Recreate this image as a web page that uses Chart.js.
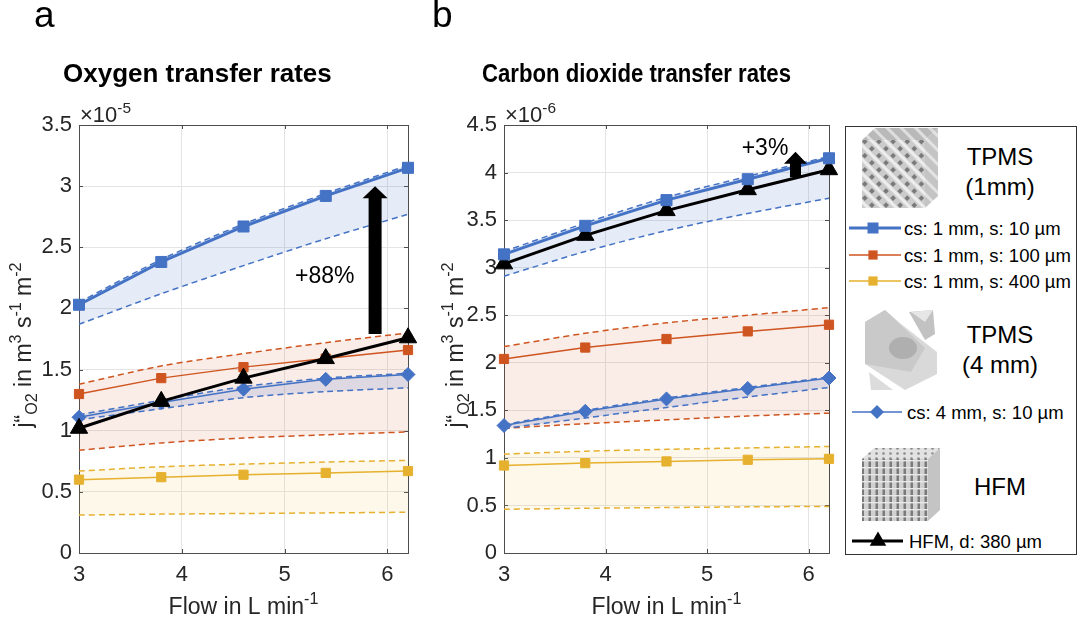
<!DOCTYPE html>
<html>
<head>
<meta charset="utf-8">
<script src="https://cdn.jsdelivr.net/npm/chart.js@4.4.1/dist/chart.umd.min.js"></script>
<style>
  html,body{margin:0;padding:0;background:#fff;}
  body{width:1080px;height:618px;overflow:hidden;position:relative;font-family:'Liberation Sans',Arial,Helvetica,sans-serif;}
  .wrap{position:absolute;top:0;height:618px;}
  #legend{position:absolute;left:845px;top:126px;width:232px;height:429px;}
</style>
</head>
<body>
<div class="wrap" style="left:0;width:430px;"><canvas id="o2"></canvas></div>
<div class="wrap" style="left:420px;width:420px;"><canvas id="co2"></canvas></div>
<div id="legend"></div>
<script>
// ---------------- DATA ----------------
const flow = [3, 3.8, 4.6, 5.4, 6.2];
const xTicks = [3, 4, 5, 6];
const o2YTicks = [0, 0.5, 1, 1.5, 2, 2.5, 3, 3.5];
const co2YTicks = [0, 0.5, 1, 1.5, 2, 2.5, 3, 3.5, 4, 4.5];

// Oxygen transfer rates (x 1e-5)
const o2_s10    = [2.03, 2.38, 2.67, 2.92, 3.15];
const o2_s10_hi = [2.05, 2.40, 2.69, 2.94, 3.17];
const o2_s10_lo = [1.87, 2.12, 2.35, 2.57, 2.77];
const o2_s100    = [1.30, 1.43, 1.52, 1.59, 1.66];
const o2_s100_hi = [1.38, 1.53, 1.63, 1.72, 1.80];
const o2_s100_lo = [0.84, 0.90, 0.94, 0.967, 0.99];
const o2_s400    = [0.60, 0.62, 0.64, 0.655, 0.67];
const o2_s400_hi = [0.67, 0.705, 0.727, 0.744, 0.757];
const o2_s400_lo = [0.31, 0.318, 0.323, 0.328, 0.333];
const o2_cs4    = [1.11, 1.23, 1.34, 1.42, 1.46];
const o2_cs4_hi = [1.13, 1.25, 1.36, 1.43, 1.47];
const o2_cs4_lo = [1.09, 1.18, 1.27, 1.32, 1.35];
const o2_hfm    = [1.02, 1.24, 1.43, 1.59, 1.76];
const o2_arrow  = [5.88, 1.79, 3.0];    // x, from, to
const o2_note   = [5.39, 2.26, '+88%']; // x, y, text

// Carbon dioxide transfer rates (x 1e-6)
const co2_s10    = [3.14, 3.44, 3.71, 3.93, 4.15];
const co2_s10_hi = [3.17, 3.47, 3.74, 3.96, 4.17];
const co2_s10_lo = [2.91, 3.17, 3.39, 3.57, 3.73];
const co2_s100    = [2.04, 2.16, 2.25, 2.33, 2.40];
const co2_s100_hi = [2.17, 2.31, 2.42, 2.50, 2.58];
const co2_s100_lo = [1.31, 1.36, 1.40, 1.44, 1.47];
const co2_s400    = [0.92, 0.945, 0.963, 0.98, 0.99];
const co2_s400_hi = [1.04, 1.07, 1.09, 1.105, 1.12];
const co2_s400_lo = [0.46, 0.47, 0.478, 0.485, 0.49];
const co2_cs4    = [1.34, 1.49, 1.62, 1.73, 1.84];
const co2_cs4_hi = [1.35, 1.50, 1.63, 1.74, 1.85];
const co2_cs4_lo = [1.31, 1.42, 1.53, 1.64, 1.74];
const co2_hfm    = [3.04, 3.34, 3.60, 3.82, 4.03];
const co2_arrow  = [5.87, 3.95, 4.22];
const co2_note   = [5.57, 4.25, '+3%'];

const legendLabels = ['cs: 1 mm, s: 10 µm', 'cs: 1 mm, s: 100 µm', 'cs: 1 mm, s: 400 µm', 'cs: 4 mm, s: 10 µm', 'HFM, d: 380 µm'];

// ---------------- STYLE ----------------
const FONT = "'Liberation Sans', Arial, Helvetica, sans-serif";
const BLUE = '#4472c4', ORANGE = '#cf5520', YELLOW = '#e6b12e', BLACK = '#000000';
const BLUE_F = 'rgba(68,114,196,0.14)', ORANGE_F = 'rgba(207,85,32,0.11)', YELLOW_F = 'rgba(235,195,60,0.11)', CS4_F = 'rgba(68,114,196,0.16)';
const TXT = '#262626';

function pts(arr){ return flow.map((x,i)=>({x:x, y:arr[i]})); }

function band(arr, color, fillColor, fill){
  return { data: pts(arr), borderColor: color, borderWidth: 1.5, borderDash: [6,4],
    pointRadius: 0, fill: fill ? '+1' : false, backgroundColor: fillColor || 'transparent', tension: 0.3, clip: false };
}
function line(arr, color, style, r, w){
  return { data: pts(arr), borderColor: color, borderWidth: w, pointStyle: style, pointRadius: r,
    pointBackgroundColor: color, pointBorderColor: color, pointBorderWidth: 1, fill: false, tension: 0, clip: false };
}

function drawRich(ctx, segs, x, y, size, align, weight, maxW){
  const f = (s)=> (weight||'normal') + ' ' + s + 'px ' + FONT;
  let total = 0;
  segs.forEach(sg=>{ const s = sg.s ? size*0.7 : size; ctx.font = f(s); sg.w = ctx.measureText(sg.t).width; total += sg.w; });
  const k = (maxW && total > maxW) ? maxW/total : 1;
  let cx = align === 'center' ? x - total*k/2 : x;
  ctx.textAlign = 'left'; ctx.textBaseline = 'alphabetic';
  segs.forEach(sg=>{
    const s = sg.s ? size*0.7 : size;
    ctx.font = f(s);
    let dy = 0;
    if (sg.s === 'sup') dy = -size*0.42;
    if (sg.s === 'sub') dy = size*0.25;
    if (k < 1) ctx.fillText(sg.t, cx, y + dy, sg.w*k); else ctx.fillText(sg.t, cx, y + dy);
    cx += sg.w*k;
  });
}

const decoPlugin = {
  id: 'deco',
  beforeDatasetsDraw(chart, args, o){
    const ctx = chart.ctx, a = chart.chartArea, xs = chart.scales.x, ys = chart.scales.y;
    ctx.save();
    ctx.strokeStyle = '#4d4d4d'; ctx.lineWidth = 1;
    ctx.strokeRect(Math.round(a.left)+0.5, Math.round(a.top)+0.5, Math.round(a.right-a.left), Math.round(a.bottom-a.top));
    ctx.beginPath();
    const tl = 4;
    xTicks.forEach(v=>{ const px = Math.round(xs.getPixelForValue(v))+0.5;
      ctx.moveTo(px, a.bottom); ctx.lineTo(px, a.bottom-tl); ctx.moveTo(px, a.top); ctx.lineTo(px, a.top+tl); });
    o.yTicks.forEach(v=>{ const py = Math.round(ys.getPixelForValue(v))+0.5;
      ctx.moveTo(a.left, py); ctx.lineTo(a.left+tl, py); ctx.moveTo(a.right, py); ctx.lineTo(a.right-tl, py); });
    ctx.stroke();
    ctx.restore();
  },
  afterDatasetsDraw(chart, args, o){
    const ctx = chart.ctx, xs = chart.scales.x, ys = chart.scales.y;
    ctx.save();
    const ax = xs.getPixelForValue(o.arrow[0]), y0 = ys.getPixelForValue(o.arrow[1]), y1 = ys.getPixelForValue(o.arrow[2]);
    const sw = o.shaft/2, hw = o.head/2, hl = 12;
    ctx.fillStyle = '#000';
    ctx.beginPath();
    ctx.moveTo(ax - sw, y0); ctx.lineTo(ax - sw, y1 + hl); ctx.lineTo(ax - hw, y1 + hl);
    ctx.lineTo(ax, y1); ctx.lineTo(ax + hw, y1 + hl); ctx.lineTo(ax + sw, y1 + hl); ctx.lineTo(ax + sw, y0);
    ctx.closePath(); ctx.fill();
    ctx.font = '23px ' + FONT; ctx.textAlign = 'center'; ctx.textBaseline = 'middle'; ctx.fillStyle = '#000';
    ctx.fillText(o.note[2], xs.getPixelForValue(o.note[0]), ys.getPixelForValue(o.note[1]));
    ctx.restore();
  },
  afterDraw(chart, args, o){
    const ctx = chart.ctx, a = chart.chartArea;
    ctx.save();
    ctx.fillStyle = '#000';
    ctx.font = '37px ' + FONT; ctx.textAlign = 'left'; ctx.textBaseline = 'alphabetic';
    ctx.fillText(o.panel, o.panelX, 27);
    drawRich(ctx, [{t:o.title}], o.titleX, 82, 26, 'left', 'bold', o.titleW);
    ctx.fillStyle = TXT;
    drawRich(ctx, [{t:'×10'},{t:o.exp, s:'sup'}], a.left + 1, a.top - 3, 22, 'left');
    drawRich(ctx, [{t:'Flow in L min'},{t:'-1', s:'sup'}], (a.left + a.right)/2, 614, 23, 'center');
    ctx.translate(o.ylabX, 345); ctx.rotate(-Math.PI/2);
    drawRich(ctx, [{t:'j“'},{t:'O2', s:'sub'},{t:' in m'},{t:'3', s:'sup'},{t:' s'},{t:'-1', s:'sup'},{t:' m'},{t:'-2', s:'sup'}], 0, 0, 23, 'center');
    ctx.restore();
  }
};

function makeChart(id, d, cfg){
  const datasets = [
    band(d.s10_hi, BLUE, BLUE_F, true),
    band(d.s10_lo, BLUE),
    band(d.s100_hi, ORANGE, ORANGE_F, true),
    band(d.s100_lo, ORANGE),
    band(d.s400_hi, YELLOW, YELLOW_F, true),
    band(d.s400_lo, YELLOW),
    band(d.cs4_hi, BLUE, CS4_F, true),
    band(d.cs4_lo, BLUE),
    line(d.s400, YELLOW, 'rect', 6.5, 1.5),
    line(d.s100, ORANGE, 'rect', 6.5, 1.5),
    line(d.cs4, BLUE, 'rectRot', 7, 1.5),
    line(d.hfm, BLACK, 'triangle', 10, 3),
    line(d.s10, BLUE, 'rect', 7.8, 3)
  ];
  const N = datasets.length;
  datasets.forEach((ds,i)=>{ ds.order = N - i; });
  return new Chart(document.getElementById(id), {
    type: 'line',
    data: { datasets },
    options: {
      responsive: true, maintainAspectRatio: false, animation: false,
      layout: { padding: { left: 0, top: 125, right: cfg.padRight, bottom: 0 } },
      plugins: { legend: { display: false }, tooltip: { enabled: false },
        deco: { panel: cfg.panel, panelX: cfg.panelX, title: cfg.title, titleX: cfg.titleX, titleW: cfg.titleW, exp: cfg.exp,
                ylabX: cfg.ylabX, yTicks: cfg.yTicks, arrow: cfg.arrow, note: cfg.note, shaft: cfg.shaft, head: cfg.head } },
      scales: {
        x: { type: 'linear', min: 3, max: 6.2,
          afterBuildTicks: s => { s.ticks = xTicks.map(v=>({value:v})); },
          afterFit: s => { s.height = 65; },
          grid: { color: '#e4e4e4', drawTicks: false }, border: { display: false },
          ticks: { padding: 9, color: TXT, font: { size: 22, family: FONT }, callback: v => String(v) } },
        y: { type: 'linear', min: 0, max: cfg.ymax,
          afterBuildTicks: s => { s.ticks = cfg.yTicks.map(v=>({value:v})); },
          afterFit: s => { s.width = cfg.yWidth; },
          grid: { color: '#e4e4e4', drawTicks: false }, border: { display: false },
          ticks: { padding: 7, color: TXT, font: { size: 22, family: FONT }, callback: v => String(v) } }
      }
    },
    plugins: [decoPlugin]
  });
}

makeChart('o2', {
  s10: o2_s10, s10_hi: o2_s10_hi, s10_lo: o2_s10_lo,
  s100: o2_s100, s100_hi: o2_s100_hi, s100_lo: o2_s100_lo,
  s400: o2_s400, s400_hi: o2_s400_hi, s400_lo: o2_s400_lo,
  cs4: o2_cs4, cs4_hi: o2_cs4_hi, cs4_lo: o2_cs4_lo, hfm: o2_hfm
}, { panel: 'a', panelX: 34, title: 'Oxygen transfer rates', titleX: 63, titleW: 270, exp: '-5', ylabX: 31,
     yTicks: o2YTicks, ymax: 3.5, yWidth: 79, padRight: 22, arrow: o2_arrow, note: o2_note, shaft: 13, head: 25 });

makeChart('co2', {
  s10: co2_s10, s10_hi: co2_s10_hi, s10_lo: co2_s10_lo,
  s100: co2_s100, s100_hi: co2_s100_hi, s100_lo: co2_s100_lo,
  s400: co2_s400, s400_hi: co2_s400_hi, s400_lo: co2_s400_lo,
  cs4: co2_cs4, cs4_hi: co2_cs4_hi, cs4_lo: co2_cs4_lo, hfm: co2_hfm
}, { panel: 'b', panelX: 12, title: 'Carbon dioxide transfer rates', titleX: 62, titleW: 309, exp: '-6', ylabX: 43,
     yTicks: co2YTicks, ymax: 4.5, yWidth: 84, padRight: 7, arrow: co2_arrow, note: co2_note, shaft: 11, head: 23 });

// ---------------- LEGEND (SVG) ----------------
(function(){
  const NS = 'http://www.w3.org/2000/svg';
  const entries = [
    {y:102, x0:4, x1:56, m:28, tx:59, c:BLUE, w:3, s:'sq', r:5.5},
    {y:129, x0:4, x1:56, m:28, tx:59, c:ORANGE, w:1.5, s:'sq', r:4.6},
    {y:155, x0:4, x1:56, m:28, tx:59, c:YELLOW, w:1.5, s:'sq', r:4.6},
    {y:286, x0:7, x1:57, m:32, tx:62, c:BLUE, w:1.5, s:'di', r:7},
    {y:415, x0:7, x1:58, m:33, tx:64, c:BLACK, w:3, s:'tri', r:9.5}
  ];
  let svg = '<svg xmlns="'+NS+'" width="232" height="429" viewBox="0 0 232 429" style="font-family:'+FONT.replace(/'/g,'&quot;')+'">';
  svg += '<defs>'+
    '<pattern id="lat" width="10" height="10" patternUnits="userSpaceOnUse" patternTransform="rotate(45)">'+
      '<rect width="10" height="10" fill="#cbcbcb"/><rect x="0" y="0" width="10" height="3.2" fill="#ededed"/><rect x="3" y="5" width="4" height="4" fill="#7a7a7a"/></pattern>'+
    '<pattern id="lat2" width="10" height="10" patternUnits="userSpaceOnUse" patternTransform="rotate(45)">'+
      '<rect width="10" height="10" fill="#b9b9b9"/><rect x="0" y="0" width="10" height="3" fill="#dedede"/></pattern>'+
    '<pattern id="hfm" width="7" height="7" patternUnits="userSpaceOnUse">'+
      '<rect width="7" height="7" fill="#d0d0d0"/><rect x="2.5" width="2.5" height="7" fill="#7a7a7a"/><rect x="0" y="5" width="7" height="1.4" fill="#e8e8e8"/></pattern>'+
    '<pattern id="hfmt" width="7" height="5" patternUnits="userSpaceOnUse">'+
      '<rect width="7" height="5" fill="#e2e2e2"/><circle cx="3.5" cy="2.5" r="1.3" fill="#8a8a8a"/></pattern>'+
    '</defs>';
  svg += '<rect x="0.5" y="0.5" width="231" height="428" fill="#fff" stroke="#333" stroke-width="1"/>';
  // cube 1 (TPMS 1 mm)
  svg += '<polygon points="17,14 30,2 93,2 80,14" fill="url(#lat2)"/>'+
         '<polygon points="80,14 93,2 93,70 80,82" fill="url(#lat2)" opacity="0.85"/>'+
         '<rect x="17" y="14" width="63" height="68" fill="url(#lat)"/>';
  // cube 2 (TPMS 4 mm)
  svg += '<polygon points="20,196 40,184 56,198 92,226 92,248 60,264 20,238" fill="#d9d9d9"/>'+
         '<polygon points="20,196 40,184 80,222 66,246 20,238" fill="#c9c9c9"/>'+
         '<ellipse cx="58" cy="222" rx="14" ry="11" fill="#afafaf"/>'+
         '<polygon points="64,186 88,184 90,208 80,214" fill="#c2c2c2"/>'+
         '<polygon points="66,186 88,184 80,196" fill="#e6e6e6"/>'+
         '<polygon points="24,246 48,264 26,264" fill="#dcdcdc"/>';
  // cube 3 (HFM)
  svg += '<polygon points="17,333 29,322 95,322 83,333" fill="url(#hfmt)"/>'+
         '<polygon points="83,333 95,322 95,384 83,395" fill="#c4c4c4"/>'+
         '<rect x="17" y="333" width="66" height="62" fill="url(#hfm)"/>';
  // titles
  svg += '<g fill="#000" font-size="24" text-anchor="middle">'+
         '<text x="155" y="39">TPMS</text><text x="155" y="69">(1mm)</text>'+
         '<text x="155" y="217">TPMS</text><text x="155" y="247">(4 mm)</text>'+
         '<text x="155" y="369">HFM</text></g>';
  entries.forEach((e,i)=>{
    svg += '<line x1="'+e.x0+'" y1="'+e.y+'" x2="'+e.x1+'" y2="'+e.y+'" stroke="'+e.c+'" stroke-width="'+e.w+'"/>';
    if (e.s==='sq') svg += '<rect x="'+(e.m-e.r)+'" y="'+(e.y-e.r)+'" width="'+(2*e.r)+'" height="'+(2*e.r)+'" fill="'+e.c+'"/>';
    if (e.s==='di') svg += '<polygon points="'+e.m+','+(e.y-e.r)+' '+(e.m+e.r)+','+e.y+' '+e.m+','+(e.y+e.r)+' '+(e.m-e.r)+','+e.y+'" fill="'+e.c+'"/>';
    if (e.s==='tri') svg += '<polygon points="'+e.m+','+(e.y-e.r)+' '+(e.m+e.r*0.866)+','+(e.y+e.r*0.5)+' '+(e.m-e.r*0.866)+','+(e.y+e.r*0.5)+'" fill="'+e.c+'"/>';
    svg += '<text x="'+e.tx+'" y="'+(e.y+6.5)+'" font-size="18.5" fill="#000">'+legendLabels[i]+'</text>';
  });
  svg += '</svg>';
  document.getElementById('legend').innerHTML = svg;
})();
</script>
</body>
</html>
